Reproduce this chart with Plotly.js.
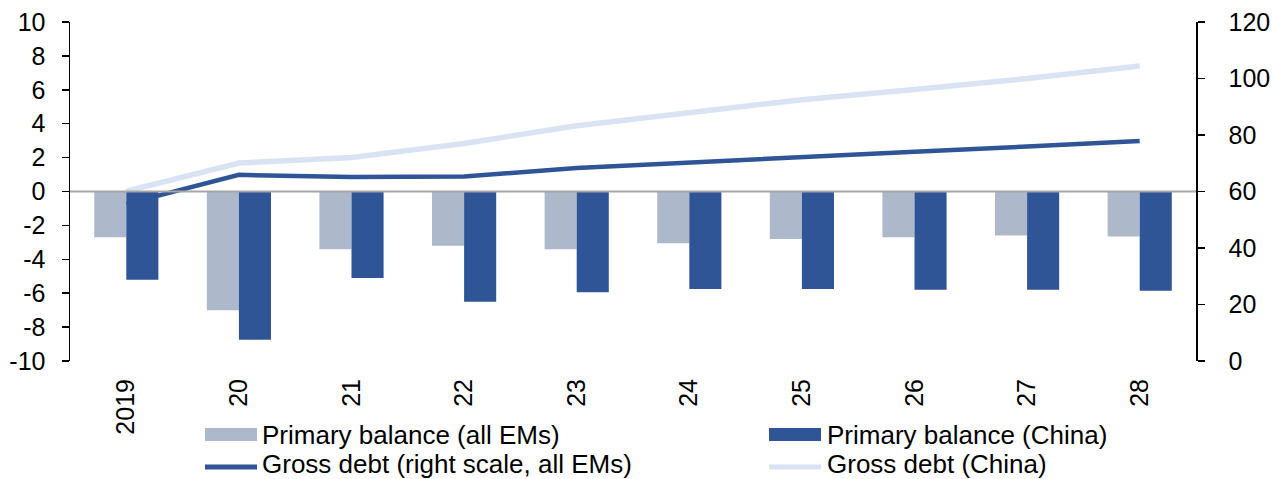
<!DOCTYPE html>
<html>
<head>
<meta charset="utf-8">
<script src="https://cdn.plot.ly/plotly-3.0.1.min.js"></script>
<style>
  html, body { margin: 0; padding: 0; background: #ffffff; }
  #chart { width: 1273px; height: 479px; }
</style>
</head>
<body>
<div id="chart"></div>
<script>
// Years on the category axis
const years = ['2019', '20', '21', '22', '23', '24', '25', '26', '27', '28'];

// Primary balance, % of GDP (left scale)
const primaryAllEMs = [-2.7, -7.0, -3.4, -3.2, -3.4, -3.05, -2.8, -2.7, -2.6, -2.65];
const primaryChina  = [-5.2, -8.75, -5.1, -6.5, -5.95, -5.75, -5.75, -5.8, -5.8, -5.85];

// Gross debt, % of GDP (right scale)
const debtAllEMs = [55.6, 65.9, 65.1, 65.3, 68.3, 70.3, 72.3, 74.1, 75.9, 77.9];
const debtChina  = [60.1, 70.1, 72.0, 77.0, 83.3, 88.1, 92.5, 96.1, 100.0, 104.4];

// Series names
const names = [
  'Primary balance (all EMs)',
  'Primary balance (China)',
  'Gross debt (right scale, all EMs)',
  'Gross debt (China)'
];

// Axis tick values and labels
const leftTicks = [-10, -8, -6, -4, -2, 0, 2, 4, 6, 8, 10];
const leftTickText = ['-10', '-8', '-6', '-4', '-2', '0', '2', '4', '6', '8', '10'];
const rightTicks = [0, 20, 40, 60, 80, 100, 120];

const C_GREY = '#ADB9CA';
const C_DARK = '#2F5597';
const C_LIGHT = '#DAE3F3';
const FONT = 'Liberation Sans, Arial, sans-serif';

const traces = [
  // debt lines live on the primary (right-hand) axis so the bars draw above them
  { type: 'scatter', mode: 'lines', name: names[3], x: years, y: debtChina,
    xaxis: 'x', yaxis: 'y', line: { color: C_LIGHT, width: 5.5 }, showlegend: false },
  { type: 'scatter', mode: 'lines', name: names[2], x: years, y: debtAllEMs,
    xaxis: 'x', yaxis: 'y', line: { color: C_DARK, width: 4.5 }, showlegend: false },
  { type: 'bar', name: names[0], x: years, y: primaryAllEMs,
    xaxis: 'x', yaxis: 'y2', marker: { color: C_GREY }, showlegend: false },
  { type: 'bar', name: names[1], x: years, y: primaryChina,
    xaxis: 'x', yaxis: 'y2', marker: { color: C_DARK }, showlegend: false }
];

// plot area in pixels: x 70..1196, y 22..361
const L = 70, R = 1196, T = 22, B = 361;
const px = v => (v - L) / (R - L);
const py = v => (B - v) / (B - T);

// legend drawn as shapes + text, two rows by two columns
const legendShapes = [
  { type: 'rect', xref: 'paper', yref: 'paper', x0: px(205), x1: px(257), y0: py(441), y1: py(428),
    fillcolor: C_GREY, line: { width: 0 } },
  { type: 'rect', xref: 'paper', yref: 'paper', x0: px(769), x1: px(821), y0: py(441), y1: py(428),
    fillcolor: C_DARK, line: { width: 0 } },
  { type: 'line', xref: 'paper', yref: 'paper', x0: px(205), x1: px(257), y0: py(467), y1: py(467),
    line: { color: C_DARK, width: 5 } },
  { type: 'line', xref: 'paper', yref: 'paper', x0: px(769), x1: px(821), y0: py(467), y1: py(467),
    line: { color: C_LIGHT, width: 5 } }
];
const legendText = [
  [names[0], 261, 435], [names[1], 826, 435],
  [names[2], 261, 464], [names[3], 826, 464]
].map(([t, x, y]) => ({
  text: t, xref: 'paper', yref: 'paper', x: px(x), y: py(y),
  xanchor: 'left', yanchor: 'middle', showarrow: false, borderpad: 0,
  font: { family: FONT, size: 26, color: '#000000' }
}));

const layout = {
  width: 1273, height: 479,
  margin: { l: L, r: 1273 - R, t: T, b: 479 - B },
  paper_bgcolor: '#ffffff', plot_bgcolor: '#ffffff',
  font: { family: FONT, size: 25, color: '#000000' },
  showlegend: false,
  barmode: 'group', bargap: 0.43, bargroupgap: 0,
  xaxis: {
    type: 'category', categoryorder: 'array', categoryarray: years,
    tickangle: -90, ticks: '', showline: false, showgrid: false, zeroline: false,
    tickfont: { family: FONT, size: 25 }, ticklabelstandoff: 12
  },
  yaxis: {
    side: 'right', range: [0, 120], tickvals: rightTicks,
    showline: true, linecolor: '#000000', linewidth: 1.5,
    ticks: 'outside', ticklen: 7, tickwidth: 1.5, tickcolor: '#000000',
    showgrid: false, zeroline: false, fixedrange: true,
    tickfont: { family: FONT, size: 25 }, ticklabelstandoff: 19
  },
  yaxis2: {
    overlaying: 'y', side: 'left', range: [-10, 10],
    tickvals: leftTicks, ticktext: leftTickText,
    showline: true, linecolor: '#000000', linewidth: 1.5,
    ticks: 'outside', ticklen: 7, tickwidth: 1.5, tickcolor: '#000000',
    showgrid: false, zeroline: false, fixedrange: true,
    tickfont: { family: FONT, size: 25 }, ticklabelstandoff: 11
  },
  shapes: [
    // zero line of the left scale
    { type: 'line', xref: 'paper', yref: 'y2', x0: 0, x1: 1, y0: 0, y1: 0,
      line: { color: '#A6A6A6', width: 2 }, layer: 'above' }
  ].concat(legendShapes),
  annotations: legendText
};

Plotly.newPlot('chart', traces, layout, { displayModeBar: false, staticPlot: true });
</script>
</body>
</html>
